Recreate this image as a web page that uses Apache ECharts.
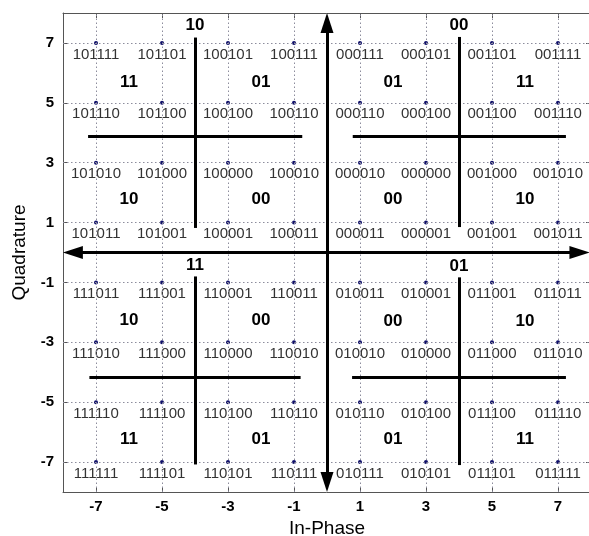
<!DOCTYPE html>
<html>
<head>
<meta charset="utf-8">
<script src="https://cdn.jsdelivr.net/npm/echarts@6/dist/echarts.min.js"></script>
<style>
  html, body { margin: 0; padding: 0; background: #fff; }
  #chart { width: 589px; height: 536px; }
</style>
</head>
<body>
<div id="chart"></div>
<script>
// 64-QAM constellation: in-phase / quadrature levels and the Gray-coded bits of each point
const iLevels = [-7, -5, -3, -1, 1, 3, 5, 7];
const qLevels = [7, 5, 3, 1, -1, -3, -5, -7];
const bitRows = [
  ['101111', '101101', '100101', '100111', '000111', '000101', '001101', '001111'],
  ['101110', '101100', '100100', '100110', '000110', '000100', '001100', '001110'],
  ['101010', '101000', '100000', '100010', '000010', '000000', '001000', '001010'],
  ['101011', '101001', '100001', '100011', '000011', '000001', '001001', '001011'],
  ['111011', '111001', '110001', '110011', '010011', '010001', '011001', '011011'],
  ['111010', '111000', '110000', '110010', '010010', '010000', '011000', '011010'],
  ['111110', '111100', '110100', '110110', '010110', '010100', '011100', '011110'],
  ['111111', '111101', '110101', '110111', '010111', '010101', '011101', '011111']
];
const tickValues = [-7, -5, -3, -1, 1, 3, 5, 7];

// two-bit sub-region tags: [I, Q, text]
const regionTags = [
  [-6, 5.67, '11'], [-2, 5.67, '01'], [-6, 1.77, '10'], [-2, 1.77, '00'],
  [2, 5.67, '01'], [6, 5.67, '11'], [2, 1.77, '00'], [6, 1.77, '10'],
  [-6, -2.25, '10'], [-2, -2.25, '00'], [-6, -6.23, '11'], [-2, -6.23, '01'],
  [2, -2.3, '00'], [6, -2.3, '10'], [2, -6.23, '01'], [6, -6.23, '11']
];
// quadrant tags: [I, Q, text]
const quadrantTags = [
  [-4, 7.6, '10'], [4, 7.6, '00'], [-4, -0.42, '11'], [4, -0.45, '01']
];
// sub-region boundaries inside each quadrant: [x1, y1, x2, y2]
const boundarySegments = [
  [-4, 7.18, -4, 0.82], [-7.24, 3.87, -0.75, 3.87],
  [4, 7.2, 4, 0.85], [0.78, 3.87, 7.24, 3.87],
  [-4, -0.8, -4, -7.08], [-7.2, -4.17, -0.8, -4.17],
  [4, -0.83, 4, -7.1], [0.76, -4.17, 7.24, -4.17]
];

const FONT = '"Liberation Sans", Arial, Helvetica, sans-serif';
const AX_MIN = -8, AX_MAX = 8;

const points = [];
qLevels.forEach((q, r) => {
  iLevels.forEach((iv, c) => {
    points.push({ value: [iv, q], bits: bitRows[r][c] });
  });
});

// dotted grid at the constellation levels
const gridLines = [];
tickValues.forEach(v => {
  gridLines.push([{ coord: [v, AX_MIN] }, { coord: [v, AX_MAX] }]);
  gridLines.push([{ coord: [AX_MIN, v] }, { coord: [AX_MAX, v] }]);
});

const boundaryLines = boundarySegments.map(s => [{ coord: [s[0], s[1]] }, { coord: [s[2], s[3]] }]);

// I and Q axes drawn as double-headed arrows through the origin
const arrowLines = [
  [{ coord: [-7.7, 0] }, { coord: [7.65, 0] }],
  [{ coord: [0, 7.67] }, { coord: [0, -7.67] }]
];

const tagSeries = (name, tags) => ({
  name: name,
  type: 'scatter',
  symbol: 'circle',
  symbolSize: 1,
  z: 6,
  silent: true,
  itemStyle: { color: 'rgba(255,255,255,0)', opacity: 1 },
  data: tags.map(t => ({ value: [t[0], t[1]], text: t[2] })),
  label: {
    show: true,
    position: 'inside',
    formatter: p => p.data.text,
    fontFamily: FONT,
    fontWeight: 'bold',
    fontSize: 17,
    color: '#000'
  }
});

const option = {
  animation: false,
  backgroundColor: '#fff',
  grid: { left: 63, right: -2, top: 13, bottom: 44, containLabel: false, outerBoundsMode: 'none' },
  xAxis: [{
    type: 'value', min: AX_MIN, max: AX_MAX, position: 'bottom',
    name: 'In-Phase', nameLocation: 'middle', nameGap: 22,
    nameTextStyle: { fontFamily: FONT, fontSize: 19, color: '#000' },
    axisLine: { show: true, onZero: false, lineStyle: { color: '#555', width: 1 } },
    axisTick: { show: true, inside: true, length: 5, customValues: tickValues, lineStyle: { color: '#555' } },
    axisLabel: { customValues: tickValues, margin: 7, fontFamily: FONT, fontSize: 15, fontWeight: 'bold', color: '#000' },
    splitLine: { show: false }
  }, {
    type: 'value', min: AX_MIN, max: AX_MAX, position: 'top',
    axisLine: { show: true, onZero: false, lineStyle: { color: '#555', width: 1 } },
    axisTick: { show: true, inside: true, length: 5, customValues: tickValues, lineStyle: { color: '#555' } },
    axisLabel: { show: false },
    splitLine: { show: false }
  }],
  yAxis: [{
    type: 'value', min: AX_MIN, max: AX_MAX, position: 'left',
    name: 'Quadrature', nameLocation: 'middle', nameGap: 33,
    nameTextStyle: { fontFamily: FONT, fontSize: 19, color: '#000' },
    axisLine: { show: true, onZero: false, lineStyle: { color: '#555', width: 1 } },
    axisTick: { show: true, inside: true, length: 5, customValues: tickValues, lineStyle: { color: '#555' } },
    axisLabel: { customValues: tickValues, margin: 9, fontFamily: FONT, fontSize: 15, fontWeight: 'bold', color: '#000' },
    splitLine: { show: false }
  }, {
    type: 'value', min: AX_MIN, max: AX_MAX, position: 'right',
    axisLine: { show: true, onZero: false, lineStyle: { color: '#555', width: 1 } },
    axisTick: { show: true, inside: true, length: 5, customValues: tickValues, lineStyle: { color: '#555' } },
    axisLabel: { show: false },
    splitLine: { show: false }
  }],
  series: [
    {
      name: 'grid',
      type: 'scatter',
      data: [],
      silent: true,
      z: 1,
      markLine: {
        silent: true,
        symbol: ['none', 'none'],
        label: { show: false },
        lineStyle: { color: '#8c8c9c', width: 1, type: [1.5, 2.5] },
        data: gridLines
      }
    },
    {
      name: 'constellation',
      type: 'scatter',
      data: points,
      symbol: 'circle',
      symbolSize: 4,
      z: 3,
      itemStyle: { color: '#0f0f6a', opacity: 1 },
      label: {
        show: true,
        position: 'bottom',
        distance: 2,
        formatter: p => p.data.bits,
        fontFamily: FONT,
        fontSize: 15,
        color: '#333'
      }
    },
    {
      name: 'boundaries',
      type: 'scatter',
      data: [],
      silent: true,
      z: 4,
      markLine: {
        silent: true,
        symbol: ['none', 'none'],
        label: { show: false },
        lineStyle: { color: '#000', width: 3, type: 'solid' },
        data: boundaryLines
      }
    },
    {
      name: 'axes',
      type: 'scatter',
      data: [],
      silent: true,
      z: 5,
      markLine: {
        silent: true,
        symbol: ['triangle', 'triangle'],
        symbolSize: [13, 20],
        label: { show: false },
        lineStyle: { color: '#000', width: 3, type: 'solid' },
        itemStyle: { color: '#000' },
        data: arrowLines
      }
    },
    tagSeries('regionTags', regionTags),
    tagSeries('quadrantTags', quadrantTags)
  ]
};

const chart = echarts.init(document.getElementById('chart'), null, { renderer: 'canvas' });
chart.setOption(option);
</script>
</body>
</html>
